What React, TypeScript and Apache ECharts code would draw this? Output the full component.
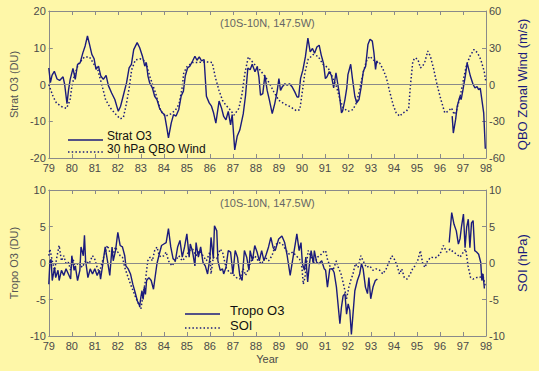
import React, { useEffect, useRef } from "react";
import * as echarts from "echarts";

// ---------- data (year, value) ----------
const yearTicks = [79, 80, 81, 82, 83, 84, 85, 86, 87, 88, 89, 90, 91, 92, 93, 94, 95, 96, 97, 98];

const stratO3A: [number, number][] = [
  [79.0, 4.5], [79.07, 0.5], [79.14, 2.5], [79.24, 3.6], [79.36, 1.5], [79.47, 1.1], [79.62, 2.1], [79.69, 0],
  [79.79, -5.2], [79.86, -1.4], [79.93, 1.4], [80.05, 4.4], [80.15, 1.4], [80.25, 5.5], [80.36, 5.9], [80.48, 8.6],
  [80.58, 10.5], [80.68, 13.2], [80.77, 10.9], [80.87, 8.2], [80.97, 7], [81.05, 4.1], [81.16, 5], [81.26, 2.3],
  [81.37, 1.4], [81.49, 2.5], [81.59, -0.3], [81.73, -2.3], [81.87, -4.1], [82.02, -7.3], [82.12, -5.9], [82.23, -3.2],
  [82.38, 0.5], [82.49, 4.5], [82.59, 5.5], [82.69, 9.5], [82.84, 11.4], [82.95, 10], [83.07, 7.7], [83.17, 5],
  [83.24, 5.9], [83.31, 2.3], [83.38, 0.5], [83.5, -0.9], [83.6, -3.2], [83.7, -4.1], [83.81, -6.4], [83.93, -7.7],
  [84.03, -8.2], [84.13, -11.8], [84.2, -14.5], [84.32, -10.5], [84.42, -8.2], [84.53, -8.6], [84.65, -6.8], [84.75, -3.2],
  [84.85, -1.8], [84.93, 2.3], [85.03, 4.5], [85.13, 5], [85.25, 6.4], [85.35, 7.7], [85.44, 6.6], [85.54, 7.5],
  [85.64, 6.4], [85.75, 6.8], [85.85, -3.2], [85.97, -5], [86.07, -5.9], [86.16, -7.7], [86.26, -10.5], [86.4, -4.5],
  [86.51, -6.5], [86.6, -8.7], [86.7, -9.6], [86.8, -7.3], [86.9, -11], [86.97, -8.2], [87.08, -17.8], [87.19, -14],
  [87.3, -12.4], [87.45, -8], [87.55, -3], [87.65, 4.5], [87.75, 4], [87.84, 5.5], [87.96, 3.5], [88.06, 4.8],
  [88.13, 2.1], [88.2, -2.9], [88.3, -2.5], [88.39, 2.5], [88.49, -1.6], [88.59, -4.3], [88.71, -7.9], [88.82, -5.2],
  [88.92, -2], [89.0, 1.6], [89.07, -1.6], [89.14, -0.7], [89.26, 0.2], [89.36, -0.2], [89.46, 0.2], [89.58, -0.7],
  [89.69, -2], [89.79, -3.4], [89.86, -3.4], [89.94, 1.6], [90.04, 3.9], [90.15, 7.5], [90.26, 12.6], [90.36, 8.9],
  [90.46, 9.8], [90.55, 8.5], [90.65, 10.2], [90.75, 10.7], [90.84, 8], [90.94, 5.7], [91.02, 1.6], [91.09, 2.1],
  [91.19, 3.5], [91.28, 2.5], [91.38, -0.9], [91.48, 3.2], [91.62, -2.3], [91.72, -7.7], [91.77, -7.2], [91.87, -4.1],
  [91.95, -0.9], [92.0, 2.7], [92.12, 5.5], [92.2, 1.4], [92.3, -3.2], [92.38, -5], [92.48, -4.1], [92.58, -0.5],
  [92.67, 3.6], [92.77, 5], [92.87, 10.9], [92.96, 12.3], [93.06, 11.8], [93.13, 8.6], [93.2, 4.1], [93.25, 6.4], [93.3, 5.9],
];
const stratO3B: [number, number][] = [
  [96.53, -8.6], [96.58, -13.2], [96.68, -9.5], [96.75, -5.9], [96.87, -3.2], [96.92, -4.1], [97.0, -1.4], [97.1, 2.3],
  [97.18, 5.9], [97.25, 4.1], [97.32, 2.3], [97.44, 0], [97.52, -0.9], [97.61, -0.6], [97.68, -1.4], [97.75, -1],
  [97.82, -4.1], [97.9, -7.7], [97.97, -17.5],
];
const qboWind: [number, number][] = [
  [79.0, 0], [79.19, -10], [79.33, -15], [79.55, -18], [79.77, -19.5], [79.92, -13], [80.0, -2], [80.12, 8],
  [80.3, 17], [80.55, 22.5], [80.77, 22.5], [80.98, 16], [81.13, 12], [81.33, -2], [81.47, -12.5], [81.67, -19],
  [81.87, -23.5], [82.1, -28], [82.24, -27], [82.38, -15], [82.5, -2], [82.6, 12], [82.76, 20], [82.96, 21],
  [83.2, 19], [83.4, 6], [83.64, -7], [83.85, -21], [84.06, -26], [84.3, -24], [84.5, -21], [84.66, -16],
  [84.8, -2], [84.86, 9], [85.0, 14.5], [85.25, 18], [85.5, 18], [85.8, 18.5], [86.1, 18], [86.25, 5],
  [86.4, -5], [86.55, -13], [86.7, -17], [86.9, -21], [87.05, -25], [87.26, -19.5], [87.4, -7.5], [87.52, 9],
  [87.67, 22.5], [87.91, 17], [88.13, 13], [88.42, 6], [88.59, 1], [88.78, -6], [89.0, -13], [89.25, -16],
  [89.48, -18], [89.77, -21.5], [89.91, -20.5], [90.01, -7], [90.13, 9.5], [90.27, 20.5], [90.49, 24.5], [90.7, 23],
  [90.92, 16.5], [91.14, 13.5], [91.28, 8], [91.5, -1.5], [91.65, -12], [91.79, -19], [92.0, -22], [92.22, -20.5],
  [92.37, -15], [92.51, -4], [92.66, 9.5], [92.8, 19], [92.95, 23], [93.09, 20.5], [93.24, 17.5], [93.38, 17.5],
  [93.53, 12.3], [93.67, 5.5], [93.81, -5.5], [93.96, -16.4], [94.1, -23.2], [94.25, -25.9], [94.39, -23.2], [94.54, -21.8],
  [94.64, -19.1], [94.72, 0], [94.82, 19], [94.92, 21.8], [95.04, 20.5], [95.15, 13.6], [95.25, 15], [95.35, 19],
  [95.47, 27.3], [95.58, 23.2], [95.73, 12.3], [95.87, 0], [96.04, -12.3], [96.21, -23.2], [96.36, -21.8], [96.5, -19.1],
  [96.62, -24.5], [96.73, -20.5], [96.88, -9.5], [97.02, 4.1], [97.16, 16.4], [97.31, 23.2], [97.48, 28.6], [97.63, 25.9],
  [97.77, 20.5], [97.92, 10.9], [97.99, 2.7],
];
const tropoO3A: [number, number][] = [
  [79.0, -2.9], [79.05, 0.3], [79.1, 0.5], [79.15, -2.4], [79.25, -0.6], [79.3, -2], [79.4, -1], [79.45, -2.4],
  [79.55, -1], [79.65, -1.7], [79.75, -0.8], [79.85, -1.5], [79.95, -2.2], [80.0, 1], [80.1, -1], [80.15, -0.4],
  [80.25, -2.4], [80.35, -1], [80.4, 2.2], [80.5, 1], [80.55, 3.8], [80.6, 0.3], [80.7, -2], [80.8, -0.8],
  [80.9, -1.5], [81.0, -0.8], [81.1, -1.7], [81.2, -1], [81.25, -2.2], [81.35, -0.1], [81.45, 2.2], [81.55, 0.3],
  [81.65, -1.7], [81.75, 2.2], [81.8, 0.3], [81.9, 1.7], [82.0, 4.2], [82.1, 2.4], [82.2, 2.2], [82.3, 1],
  [82.35, -0.4], [82.45, -0.8], [82.55, -1.5], [82.65, -2.9], [82.75, -4], [82.85, -5.2], [82.95, -5.9], [83.0, -4.7],
  [83.05, -3.8], [83.1, -5], [83.15, -3.3], [83.2, -4.3], [83.25, -2.4], [83.35, -2], [83.45, -2.4], [83.55, -3.6],
  [83.6, -2.4], [83.7, -0.1], [83.8, 1.2], [83.9, 2.4], [84.0, 2.6], [84.1, 2.8], [84.2, 4.7], [84.3, 2.2],
  [84.4, 0.6], [84.5, 0.3], [84.6, 2.2], [84.7, 3.1], [84.8, 0.8], [84.9, 2.2], [85.0, 4], [85.1, 0.8],
  [85.15, 2.6], [85.25, 1.5], [85.35, -0.4], [85.4, 2.8], [85.5, 0.8], [85.6, 2.2], [85.7, 0.1], [85.8, -0.4],
  [85.9, -1.5], [86.0, 0.6], [86.05, 3.5], [86.15, 0.6], [86.2, 5.1], [86.3, 4.4], [86.35, 0.3], [86.45, -1],
  [86.55, -0.8], [86.6, -1.5], [86.7, -0.6], [86.8, 1.7], [86.9, 1.5], [87.0, -1.5], [87.1, 1.7], [87.2, 0.8],
  [87.3, -1.7], [87.4, -2.4], [87.5, 1.7], [87.6, 0.8], [87.7, -1], [87.75, 1.7], [87.85, 0.3], [87.95, 2.4],
  [88.05, 1.5], [88.15, 0.3], [88.25, 1.7], [88.35, 0.3], [88.45, 1.2], [88.55, 2.2], [88.65, 3.5], [88.75, 2.1],
  [88.84, 1.7], [88.99, 3.3], [89.13, 3.7], [89.25, 2.8], [89.35, 1.2], [89.49, -1.7], [89.59, 0.3], [89.71, 2.6],
  [89.78, 4], [89.88, 1.7], [89.96, 2.8], [90.02, -0.1], [90.11, -1], [90.17, 0.8], [90.25, -2.6], [90.31, -0.6],
  [90.4, 1.7], [90.5, -0.1], [90.54, 1.7], [90.64, 0.1], [90.74, -0.1], [90.86, 0.3], [90.97, -0.8], [91.03, -1],
  [91.11, -3.3], [91.21, -0.8], [91.32, -0.8], [91.4, -1.3], [91.5, -3.3], [91.58, -6], [91.65, -8.3], [91.72, -6],
  [91.79, -4.5], [91.87, -4.2], [91.94, -7], [92.01, -5.6], [92.08, -6.5], [92.15, -9.8], [92.22, -7], [92.3, -3.8],
  [92.41, -2.4], [92.51, -1.5], [92.59, -0.1], [92.66, -0.8], [92.76, -3.3], [92.85, -4.2], [92.91, -2], [92.99, -4.9],
  [93.09, -3.3], [93.19, -2.4], [93.28, -2.2],
];
const tropoO3B: [number, number][] = [
  [96.4, 2.8], [96.51, 6.9], [96.61, 5.3], [96.71, 4.4], [96.8, 2.6], [96.87, 3.3], [96.94, 5.1], [97.02, 6.7],
  [97.09, 2.1], [97.16, 4.9], [97.23, 6], [97.3, 2.1], [97.37, 5.5], [97.44, 5.8], [97.51, 1.7], [97.59, 1.5],
  [97.68, 1.2], [97.77, 0.1], [97.82, -2.4], [97.87, -1.5], [97.93, -3.5],
];
const soi: [number, number][] = [
  [79.0, 1], [79.05, 1.9], [79.15, 0.3], [79.25, -1], [79.35, 0.8], [79.45, 2.4], [79.55, 0.3], [79.65, 1],
  [79.75, -0.1], [79.85, 0.1], [79.95, -1], [80.05, 0.6], [80.15, -0.6], [80.3, 0.1], [80.45, -0.6], [80.6, 0.3],
  [80.75, -0.1], [80.9, 1], [81.0, 0.5], [81.1, -0.6], [81.2, -1.3], [81.3, -0.1], [81.45, 1.5], [81.55, 2.4],
  [81.65, 1.5], [81.8, 1.2], [81.9, 2.2], [82.0, 1.5], [82.1, 1], [82.2, 0.8], [82.3, -0.6], [82.45, -2],
  [82.6, -3.3], [82.75, -4.5], [82.9, -5.6], [83.0, -6.3], [83.1, -4.3], [83.2, -2.4], [83.3, 0.3], [83.4, 0.8],
  [83.5, 0.3], [83.6, 1.7], [83.7, 2.2], [83.8, 1], [83.9, 0.8], [84.0, 1], [84.1, 1.5], [84.2, 0.3],
  [84.35, -0.4], [84.5, 0.3], [84.65, 1], [84.8, 0.3], [84.95, 0.8], [85.1, 1.7], [85.25, 1.9], [85.4, 1],
  [85.55, 1.7], [85.7, 1], [85.85, 0.3], [86.0, 1.5], [86.05, -1.5], [86.15, 0.8], [86.3, 0.6], [86.45, 1.9],
  [86.55, 1.5], [86.7, -0.6], [86.85, -1.3], [87.0, -1.5], [87.15, -2], [87.3, -2.2], [87.45, -0.8], [87.55, -1.7],
  [87.65, -1], [87.8, 0.3], [87.95, 1], [88.1, 0.3], [88.25, -0.1], [88.4, 0.8], [88.55, 0.3], [88.7, 1],
  [88.85, 2.5], [89.0, 2.8], [89.15, 2.6], [89.3, 1.8], [89.45, 1.2], [89.6, 1.5], [89.75, 1], [89.9, 0.5],
  [90.0, -0.6], [90.06, -2.9], [90.13, -2], [90.27, 1.7], [90.4, 0.8], [90.54, -0.1], [90.68, 0.8], [90.78, 1],
  [90.93, 1.5], [91.03, 1.7], [91.11, 0.5], [91.21, -0.4], [91.35, -1], [91.5, 0.3], [91.58, -0.6], [91.7, -1.5],
  [91.77, -2.4], [91.87, -3.8], [91.94, -4.9], [92.04, -3.3], [92.12, -2.4], [92.22, -1.5], [92.32, -0.1], [92.44, -0.6],
  [92.56, 1], [92.66, 0.3], [92.8, -0.6], [92.95, -0.4], [93.09, -1], [93.23, -0.8], [93.38, -1], [93.52, -1.5],
  [93.66, -0.8], [93.81, 0.3], [93.91, 1], [94.02, 0.5], [94.14, -0.4], [94.24, -1.5], [94.34, -0.8], [94.45, -2],
  [94.57, -2.2], [94.71, -1.5], [94.81, -0.8], [94.91, -0.4], [95.03, 0.3], [95.15, 1.7], [95.25, -0.1], [95.35, -0.6],
  [95.46, 0.3], [95.61, 0.8], [95.75, 0.7], [95.89, 0.8], [96.04, 1.5], [96.15, 2.4], [96.29, 1.5], [96.44, 1.9],
  [96.58, 1.5], [96.73, 1.2], [96.87, 0.8], [97.02, 1.5], [97.12, 1.9], [97.22, -0.4], [97.33, -2], [97.44, -2.2],
  [97.59, -2], [97.73, -2], [97.85, -1.5], [97.98, -3.3],
];

const NAVY = "#1b1b7c";
const AXIS = "#8a8a8a";
const TXT = "#4a4a4a";
const FONT = "'Liberation Sans', Arial, sans-serif";
const BG = "#fef7a8";

function withGap(a: [number, number][], b: [number, number][]) {
  const gapX = (a[a.length - 1][0] + b[0][0]) / 2;
  return [...a, [gapX, null], ...b];
}

export default function App() {
  const ref = useRef<HTMLDivElement>(null);
  useEffect(() => {
    if (!ref.current) return;
    const chart = echarts.init(ref.current, undefined, { renderer: "svg" });

    const xBottom = (gridIndex: number, withName: boolean) => ({
      type: "value",
      gridIndex,
      position: "bottom",
      min: 79,
      max: 98,
      interval: 1,
      name: withName ? "Year" : "",
      nameLocation: "middle",
      nameGap: 17,
      nameTextStyle: { color: TXT, fontFamily: FONT, fontSize: 11 },
      axisLine: { show: true, onZero: false, lineStyle: { color: AXIS, width: 1 } },
      axisTick: { show: true, inside: true, length: 4, lineStyle: { color: AXIS } },
      axisLabel: { color: TXT, fontFamily: FONT, fontSize: 11, margin: 4, formatter: (v: number) => (yearTicks.includes(v) ? String(v) : "") },
      splitLine: { show: false },
    });
    const xTop = (gridIndex: number) => ({
      type: "value",
      gridIndex,
      position: "top",
      min: 79,
      max: 98,
      interval: 1,
      axisLine: { show: true, onZero: false, lineStyle: { color: AXIS, width: 1 } },
      axisTick: { show: true, inside: true, length: 4, lineStyle: { color: AXIS } },
      axisLabel: { show: false },
      splitLine: { show: false },
    });
    const yAx = (gridIndex: number, position: string, min: number, max: number, interval: number, name: string, nameColor: string, nameSize: number) => ({
      type: "value",
      gridIndex,
      position,
      min,
      max,
      interval,
      name,
      nameLocation: "middle",
      nameRotate: 90,
      nameGap: position === "left" ? 27 : 29,
      nameTextStyle: { color: nameColor, fontFamily: FONT, fontSize: nameSize },
      axisLine: { show: true, onZero: false, lineStyle: { color: AXIS, width: 1 } },
      axisTick: { show: true, inside: true, length: 4, lineStyle: { color: AXIS } },
      axisLabel: { color: TXT, fontFamily: FONT, fontSize: 11, margin: 3 },
      splitLine: { show: false },
    });

    const zeroLine = {
      silent: true,
      symbol: "none",
      label: { show: false },
      lineStyle: { color: AXIS, type: "solid", width: 1 },
      data: [{ yAxis: 0 }],
    };

    const solid = { color: NAVY, width: 1.4, type: "solid" };
    const dotted = { color: NAVY, width: 1.5, type: [1.5, 2.2] };

    chart.setOption({
      animation: false,
      backgroundColor: BG,
      grid: [
        { left: 45, right: 53, top: 11, height: 147 },
        { left: 45, right: 53, top: 190, height: 146 },
      ],
      xAxis: [xBottom(0, false), xTop(0), xBottom(1, true), xTop(1)],
      yAxis: [
        yAx(0, "left", -20, 20, 10, "Strat O3 (DU)", "#555", 11),
        yAx(0, "right", -60, 60, 30, "QBO Zonal Wind (m/s)", NAVY, 13),
        yAx(1, "left", -10, 10, 5, "Tropo O3 (DU)", "#555", 11),
        yAx(1, "right", -10, 10, 5, "SOI (hPa)", NAVY, 13),
      ],
      series: [
        {
          name: "Strat O3", type: "line", xAxisIndex: 0, yAxisIndex: 0, showSymbol: false, connectNulls: false,
          data: withGap(stratO3A, stratO3B), lineStyle: solid, markLine: zeroLine, z: 3,
        },
        {
          name: "30 hPa QBO Wind", type: "line", xAxisIndex: 0, yAxisIndex: 1, showSymbol: false,
          data: qboWind, lineStyle: dotted, z: 2,
        },
        {
          name: "Tropo O3", type: "line", xAxisIndex: 2, yAxisIndex: 2, showSymbol: false, connectNulls: false,
          data: withGap(tropoO3A, tropoO3B), lineStyle: solid, markLine: zeroLine, z: 3,
        },
        {
          name: "SOI", type: "line", xAxisIndex: 2, yAxisIndex: 3, showSymbol: false,
          data: soi, lineStyle: dotted, z: 2,
        },
      ],
      graphic: [
        { type: "text", left: 220, top: 17, style: { text: "(10S-10N, 147.5W)", fill: "#666", font: `11px ${FONT}` } },
        { type: "text", left: 220, top: 197, style: { text: "(10S-10N, 147.5W)", fill: "#666", font: `11px ${FONT}` } },
        { type: "line", shape: { x1: 68, y1: 140, x2: 103, y2: 140 }, style: { stroke: NAVY, lineWidth: 1.5 } },
        { type: "text", x: 107, y: 135.5, style: { text: "Strat O3", fill: "#111", font: `12px ${FONT}`, textVerticalAlign: "middle" } },
        { type: "line", shape: { x1: 68, y1: 152, x2: 103, y2: 152 }, style: { stroke: NAVY, lineWidth: 1.5, lineDash: [1.5, 2.2] } },
        { type: "text", x: 107, y: 148.5, style: { text: "30 hPa QBO Wind", fill: "#111", font: `12px ${FONT}`, textVerticalAlign: "middle" } },
        { type: "line", shape: { x1: 185, y1: 314, x2: 220, y2: 314 }, style: { stroke: NAVY, lineWidth: 1.5 } },
        { type: "text", x: 230, y: 310, style: { text: "Tropo O3", fill: "#111", font: `13px ${FONT}`, textVerticalAlign: "middle" } },
        { type: "line", shape: { x1: 185, y1: 328, x2: 220, y2: 328 }, style: { stroke: NAVY, lineWidth: 1.5, lineDash: [1.5, 2.2] } },
        { type: "text", x: 230, y: 325, style: { text: "SOI", fill: "#111", font: `13px ${FONT}`, textVerticalAlign: "middle" } },
      ],
    });
    return () => chart.dispose();
  }, []);

  return <div ref={ref} style={{ position: "fixed", left: 0, top: 0, width: 539, height: 371 }} />;
}
